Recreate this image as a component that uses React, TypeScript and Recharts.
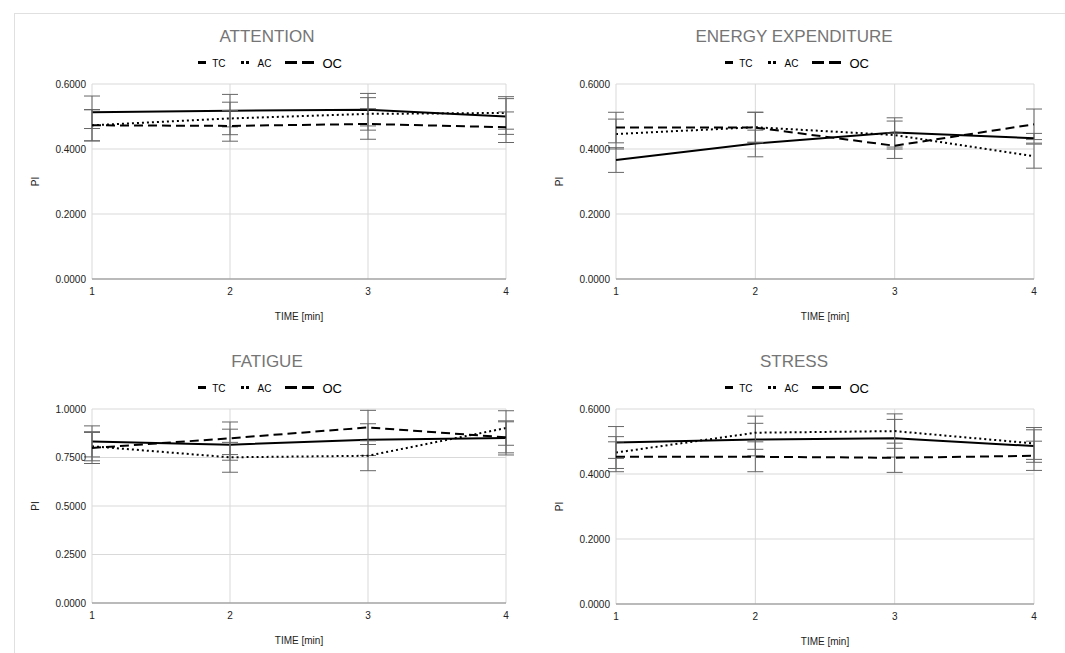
import React from "react";
import { LineChart, Line, XAxis, YAxis, CartesianGrid, ErrorBar, Label } from "recharts";

const times = [1, 2, 3, 4];

// ATTENTION
const attTC = [0.513, 0.518, 0.521, 0.5];
const attAC = [0.473, 0.494, 0.508, 0.511];
const attOC = [0.473, 0.471, 0.477, 0.467];
const attTCErr = [0.05, 0.05, 0.05, 0.055];
const attACErr = [0.048, 0.05, 0.05, 0.05];
const attOCErr = [0.048, 0.047, 0.047, 0.047];

// ENERGY EXPENDITURE
const eneTC = [0.366, 0.417, 0.451, 0.433];
const eneAC = [0.446, 0.467, 0.443, 0.378];
const eneOC = [0.466, 0.466, 0.41, 0.476];
const eneTCErr = [0.038, 0.041, 0.045, 0.015];
const eneACErr = [0.046, 0.046, 0.043, 0.037];
const eneOCErr = [0.047, 0.047, 0.039, 0.047];

// FATIGUE
const fatTC = [0.833, 0.816, 0.842, 0.851];
const fatAC = [0.808, 0.751, 0.759, 0.902];
const fatOC = [0.799, 0.849, 0.905, 0.854];
const fatTCErr = [0.08, 0.08, 0.082, 0.088];
const fatACErr = [0.075, 0.077, 0.077, 0.089];
const fatOCErr = [0.08, 0.084, 0.088, 0.08];

// STRESS
const strTC = [0.497, 0.506, 0.51, 0.486];
const strAC = [0.466, 0.527, 0.532, 0.494];
const strOC = [0.453, 0.453, 0.45, 0.456];
const strTCErr = [0.049, 0.05, 0.058, 0.05];
const strACErr = [0.049, 0.051, 0.053, 0.049];
const strOCErr = [0.046, 0.046, 0.045, 0.045];

const ticks06 = [0, 0.2, 0.4, 0.6];
const ticks10 = [0, 0.25, 0.5, 0.75, 1];

const font = '"Liberation Sans", Arial, sans-serif';

const makeRows = (tc, ac, oc, tcErr, acErr, ocErr) =>
  times.map((t, i) => ({
    t,
    tc: tc[i],
    ac: ac[i],
    oc: oc[i],
    tcErr: tcErr[i],
    acErr: acErr[i],
    ocErr: ocErr[i],
  }));

const LegendRow = ({ center, y }) => (
  <div
    style={{
      position: "absolute",
      left: center - 150,
      top: y - 8,
      width: 300,
      height: 16,
      display: "flex",
      justifyContent: "center",
      alignItems: "center",
      fontFamily: font,
      color: "#000",
    }}
  >
    <svg width={8} height={4} style={{ marginRight: 6 }}>
      <rect x={0} y={0} width={8} height={3} fill="#000" />
    </svg>
    <span style={{ fontSize: 10, marginRight: 16 }}>TC</span>
    <svg width={8} height={4} style={{ marginRight: 8 }}>
      <rect x={0} y={0} width={3} height={3} fill="#000" />
      <rect x={5} y={0} width={3} height={3} fill="#000" />
    </svg>
    <span style={{ fontSize: 10, marginRight: 14 }}>AC</span>
    <svg width={29} height={4} style={{ marginRight: 8 }}>
      <rect x={0} y={0} width={12} height={3} fill="#000" />
      <rect x={17} y={0} width={12} height={3} fill="#000" />
    </svg>
    <span style={{ fontSize: 13 }}>OC</span>
  </div>
);

const Panel = ({ left, top, width, height, margin, title, center, rows, yMax, yTicks }) => (
  <>
    <div
      style={{
        position: "absolute",
        left: center - 200,
        top: top + 26,
        width: 400,
        height: 22,
        lineHeight: "22px",
        textAlign: "center",
        fontFamily: font,
        fontSize: 17,
        color: "#757575",
      }}
    >
      {title}
    </div>
    <LegendRow center={center + 3} y={top + 63} />
    <div style={{ position: "absolute", left, top }}>
      <LineChart width={width} height={height} data={rows} margin={margin}>
        <CartesianGrid stroke="#d9d9d9" />
        <XAxis
          dataKey="t"
          type="number"
          domain={[1, 4]}
          ticks={times}
          tickLine={false}
          stroke="#888"
          height={45}
          tick={{ fontSize: 10, fill: "#222", fontFamily: font }}
          tickMargin={3}
        >
          <Label value="TIME [min]" position="insideBottom" offset={4} style={{ fontSize: 10, fill: "#222", fontFamily: font }} />
        </XAxis>
        <YAxis
          type="number"
          domain={[0, yMax]}
          ticks={yTicks}
          axisLine={false}
          tickLine={false}
          tickSize={0}
          tickMargin={6}
          width={60}
          tickFormatter={(v) => v.toFixed(4)}
          tick={{ fontSize: 10, fill: "#222", fontFamily: font }}
        >
          <Label value="PI" angle={-90} position="insideLeft" offset={3} style={{ fontSize: 10, fill: "#222", fontFamily: font, textAnchor: "middle" }} />
        </YAxis>
        <Line dataKey="tc" stroke="#000" strokeWidth={2} dot={false} isAnimationActive={false}>
          <ErrorBar dataKey="tcErr" width={8} stroke="#666" strokeWidth={1} direction="y" />
        </Line>
        <Line dataKey="ac" stroke="#000" strokeWidth={2} strokeDasharray="2 3" dot={false} isAnimationActive={false}>
          <ErrorBar dataKey="acErr" width={8} stroke="#666" strokeWidth={1} direction="y" />
        </Line>
        <Line dataKey="oc" stroke="#000" strokeWidth={2} strokeDasharray="9 5" dot={false} isAnimationActive={false}>
          <ErrorBar dataKey="ocErr" width={8} stroke="#666" strokeWidth={1} direction="y" />
        </Line>
      </LineChart>
    </div>
  </>
);

export default function App() {
  return (
    <div style={{ position: "absolute", left: 0, top: 0, width: 1065, height: 653, background: "#fff", overflow: "hidden" }}>
      <div style={{ position: "absolute", left: 14, top: 13, width: 1051, height: 640, borderTop: "1px solid #e0e0e0", borderLeft: "1px solid #e0e0e0" }} />
      <Panel
        left={0}
        top={0}
        width={530}
        height={330}
        margin={{ top: 84, right: 24, left: 32, bottom: 6 }}
        title="ATTENTION"
        center={267}
        rows={makeRows(attTC, attAC, attOC, attTCErr, attACErr, attOCErr)}
        yMax={0.6}
        yTicks={ticks06}
      />
      <Panel
        left={530}
        top={0}
        width={535}
        height={330}
        margin={{ top: 84, right: 31, left: 26, bottom: 6 }}
        title="ENERGY EXPENDITURE"
        center={794}
        rows={makeRows(eneTC, eneAC, eneOC, eneTCErr, eneACErr, eneOCErr)}
        yMax={0.6}
        yTicks={ticks06}
      />
      <Panel
        left={0}
        top={325}
        width={530}
        height={328}
        margin={{ top: 84, right: 24, left: 32, bottom: 5 }}
        title="FATIGUE"
        center={267}
        rows={makeRows(fatTC, fatAC, fatOC, fatTCErr, fatACErr, fatOCErr)}
        yMax={1}
        yTicks={ticks10}
      />
      <Panel
        left={530}
        top={325}
        width={535}
        height={328}
        margin={{ top: 84, right: 31, left: 26, bottom: 4 }}
        title="STRESS"
        center={794}
        rows={makeRows(strTC, strAC, strOC, strTCErr, strACErr, strOCErr)}
        yMax={0.6}
        yTicks={ticks06}
      />
    </div>
  );
}
